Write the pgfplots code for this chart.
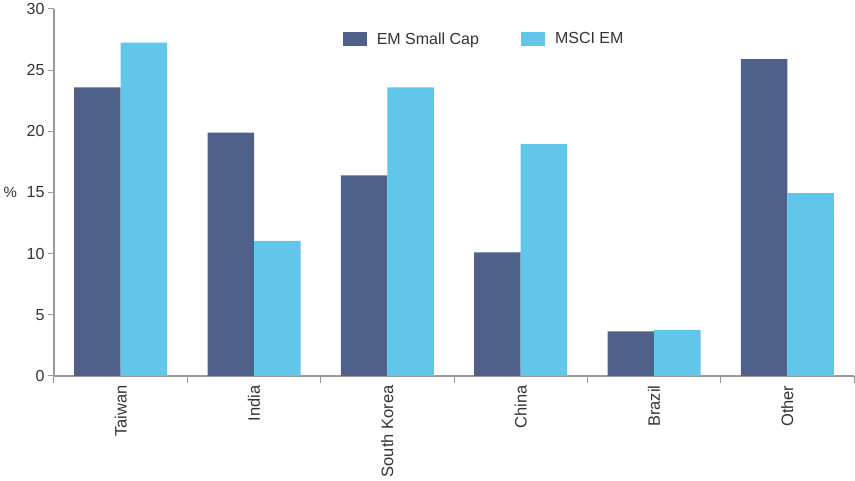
\documentclass[border=0pt]{standalone}
\usepackage{pgfplots}
\pgfplotsset{compat=1.18}
\usepackage{fontspec}
\setmainfont{Liberation Sans}
\definecolor{emsmall}{HTML}{4F6089}
\definecolor{msci}{HTML}{62C6EB}
\definecolor{axisgray}{HTML}{9A9A9A}
\definecolor{txt}{HTML}{333333}
\begin{document}
\begin{tikzpicture}
\begin{axis}[
  scale only axis, width=800pt, height=367pt,
  ybar=0pt, bar width=46.5pt,
  xmin=-0.5, xmax=5.5, ymin=0, ymax=30,
  axis x line*=bottom, axis y line*=left,
  axis line style={axisgray, line width=1.3pt},
  xtick={0,1,2,3,4,5},
  xticklabels={Taiwan,India,South Korea,China,Brazil,Other},
  minor xtick={-0.5,0.5,1.5,2.5,3.5,4.5,5.5},
  x tick label style={rotate=90, anchor=east, font=\fontsize{16.5}{18}\selectfont, text=txt},
  major x tick style={draw=none},
  minor x tick style={axisgray, line width=1pt},
  minor tick length=7pt,
  ytick={0,5,...,30},
  y tick label style={font=\fontsize{16}{18}\selectfont, text=txt},
  major y tick style={axisgray, line width=1pt},
  major tick length=6pt,
  tick align=outside,
  /pgf/number format/assume math mode=true,
  ylabel={\%},
  ylabel style={rotate=-90, at={(rel axis cs:0,0.5)}, anchor=west, xshift=-54pt,
    font=\fontsize{15}{18}\selectfont, text=txt},
  legend style={draw=none, at={(0.357,0.918)}, anchor=west,
    legend columns=2, font=\fontsize{16}{18}\selectfont, text=txt,
    /tikz/every odd column/.append style={column sep=8pt},
    /tikz/every even column/.append style={column sep=40pt}},
  legend cell align=left,
]
\addplot[fill=emsmall, draw=none,
  legend image code/.code={\fill[emsmall] (0pt,-7pt) rectangle (24pt,7pt);}]
  coordinates {(0,23.6) (1,19.9) (2,16.4) (3,10.1) (4,3.65) (5,25.9)};
\addplot[fill=msci, draw=none,
  legend image code/.code={\fill[msci] (0pt,-7pt) rectangle (24pt,7pt);}]
  coordinates {(0,27.25) (1,11.05) (2,23.6) (3,18.95) (4,3.75) (5,14.95)};
\legend{EM Small Cap, MSCI EM}
\end{axis}
\path (current axis.south west) ++(-54pt,-102pt) coordinate (bl);
\path (current axis.north east) ++(1pt,8pt) coordinate (tr);
\useasboundingbox (bl) rectangle (tr);
\end{tikzpicture}
\end{document}
